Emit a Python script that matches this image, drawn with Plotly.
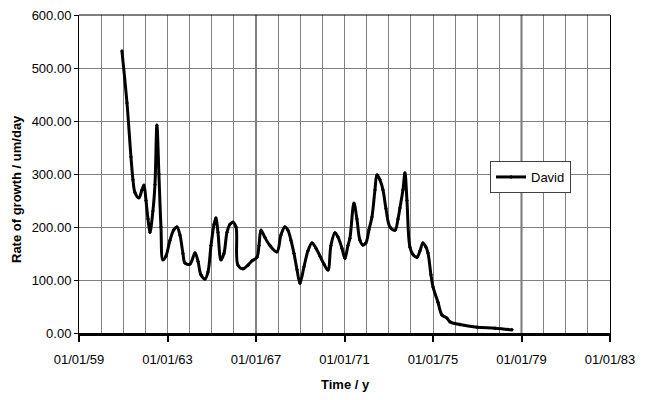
import plotly.graph_objects as go

dates = [
    "1960-12-10", "1961-03-03", "1961-05-08", "1961-06-10", "1961-07-13", "1961-09-17",
    "1961-11-05", "1961-12-08", "1962-01-11", "1962-02-13", "1962-03-17", "1962-05-05",
    "1962-06-08", "1962-07-10", "1962-08-12", "1962-09-15", "1962-10-18", "1962-12-06",
    "1963-02-11", "1963-04-17", "1963-06-06", "1963-07-25", "1963-09-13", "1963-10-16",
    "1964-01-07", "1964-03-30", "1964-05-19", "1964-07-06", "1964-09-11", "1964-10-30",
    "1964-12-19", "1965-02-07", "1965-03-11", "1965-04-13", "1965-06-02", "1965-07-21",
    "1965-09-09", "1965-10-28", "1965-12-16", "1966-02-05", "1966-03-09", "1966-05-31",
    "1966-08-21", "1966-10-26", "1967-01-17", "1967-02-19", "1967-03-25", "1967-05-29",
    "1967-08-19", "1967-12-12", "1968-02-17", "1968-04-22", "1968-06-11", "1968-07-31",
    "1968-09-19", "1968-11-07", "1968-12-27", "1969-03-03", "1969-05-08", "1969-07-13",
    "1969-09-17", "1969-11-22", "1970-01-27", "1970-04-03", "1970-05-22", "1970-07-27",
    "1970-09-15", "1970-11-20", "1971-01-08", "1971-02-27", "1971-04-01", "1971-06-06",
    "1971-07-25", "1971-09-13", "1971-11-01", "1971-12-20", "1972-02-09", "1972-03-29",
    "1972-05-18", "1972-06-20", "1972-08-08", "1972-09-27", "1972-11-15", "1973-01-21",
    "1973-04-13", "1973-06-02", "1973-07-04", "1973-08-23", "1973-09-25", "1973-10-28",
    "1973-12-16", "1974-02-04", "1974-04-11", "1974-05-31", "1974-07-19", "1974-09-07",
    "1974-10-10", "1974-11-28", "1975-01-01", "1975-03-24", "1975-05-29", "1975-08-19",
    "1975-10-08", "1976-03-20", "1976-12-27", "1977-10-20", "1978-07-28",
]
growth = [
    532, 434, 332, 289, 265, 255,
    270, 279, 250, 215, 190, 230,
    280, 392, 300, 200, 138, 145,
    175, 195, 200, 185, 150, 132,
    130, 151, 135, 110, 102, 115,
    165, 205, 217, 190, 138, 150,
    190, 205, 209, 200, 128, 121,
    128, 136, 143, 165, 194, 180,
    165, 153, 185, 200, 194, 175,
    150, 120, 94, 125, 155, 170,
    160, 145, 130, 119, 165, 189,
    181, 160, 141, 165, 179, 245,
    215, 175, 166, 170, 195, 219,
    270, 298, 289, 270, 235, 200,
    194, 215, 236, 270, 302, 250,
    162, 148, 143, 155, 170, 162,
    151, 110, 87, 58, 34, 28,
    21, 16, 11, 9, 6,
]
series_name = "David"
x_title = "Time / y"
y_title = "Rate of growth / um/day"
x_range = ["1959-01-01", "1983-01-01"]
y_range = [0, 600]

FONT = "Liberation Sans, Arial, sans-serif"
W, H = 650, 400
# plot area in screen pixels: x 79..610, y 15..333
L, T = 79, 15
R, B = W - 610, H - 333
PW, PH = W - L - R, H - T - B


def px_x(sx):
    return (sx - L) / PW


def px_y(sy):
    return (H - B - sy) / PH


fig = go.Figure()
fig.add_trace(go.Scatter(
    x=dates, y=growth, name=series_name, mode="lines+markers",
    line=dict(color="black", width=3, shape="spline", smoothing=1.0),
    marker=dict(color="black", size=3, symbol="diamond"),
))

fig.update_layout(
    width=W, height=H,
    margin=dict(l=L, r=R, t=T, b=B),
    paper_bgcolor="white", plot_bgcolor="white",
    font=dict(family=FONT, size=13, color="black"),
    showlegend=True,
    legend=dict(
        x=px_x(490), y=px_y(161), xanchor="left", yanchor="top",
        bgcolor="white", bordercolor="#404040", borderwidth=1,
        font=dict(family=FONT, size=13, color="black"),
        itemwidth=30, tracegroupgap=0,
    ),
    xaxis=dict(
        type="date", range=x_range, automargin=False,
        tick0="1959-01-01", dtick="M48", tickformat="%d/%m/%y",
        ticks="outside", ticklen=6, tickwidth=2, tickcolor="black",
        showline=True, linecolor="black", linewidth=3,
        showgrid=True, gridcolor="#808080", gridwidth=1,
        minor=dict(dtick="M12", showgrid=True, gridcolor="#808080", gridwidth=1),
        ticklabelstandoff=6,
        zeroline=False,
    ),
    yaxis=dict(
        range=y_range, dtick=100, tickformat=".2f", automargin=False,
        ticks="outside", ticklen=4, tickcolor="black",
        showline=True, linecolor="black", linewidth=1, mirror=True,
        showgrid=True, gridcolor="#808080", gridwidth=1,
        zeroline=False,
    ),
)

fig.add_annotation(text="<b>" + x_title + "</b>", xref="paper", yref="paper",
                   x=px_x(345), y=px_y(384),
                   xanchor="center", yanchor="middle", showarrow=False,
                   font=dict(family=FONT, size=13))
fig.add_annotation(text="<b>" + y_title + "</b>", xref="paper", yref="paper",
                   x=px_x(16), y=px_y(189),
                   xanchor="center", yanchor="middle", showarrow=False, textangle=-90,
                   font=dict(family=FONT, size=13))

# top border and emphasized gridlines
fig.add_shape(type="line", xref="x domain", yref="y domain", x0=0, x1=1, y0=1, y1=1,
              line=dict(color="black", width=1))
fig.add_shape(type="line", xref="x", yref="y domain", x0="1967-01-01", x1="1967-01-01", y0=0, y1=1,
              line=dict(color="black", width=1), layer="below")
fig.add_shape(type="line", xref="x", yref="y domain", x0="1979-01-01", x1="1979-01-01", y0=0, y1=1,
              line=dict(color="#707070", width=2), layer="below")

fig.write_html(
    "out.html",
    config={"displayModeBar": False},
    post_script="document.body.style.margin='0';document.body.style.overflow='hidden';",
)
